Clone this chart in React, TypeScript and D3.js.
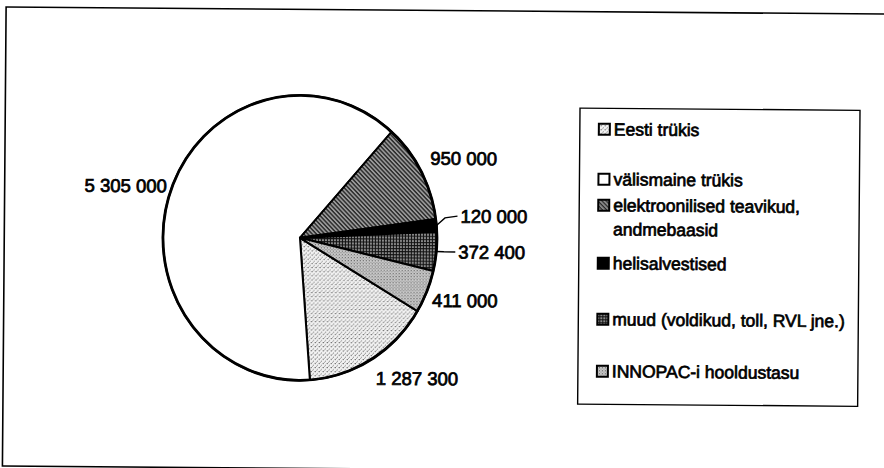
import React from "react";
import * as d3 from "d3";

const categories = [
  "Eesti trükis",
  "välismaine trükis",
  "elektroonilised teavikud, andmebaasid",
  "helisalvestised",
  "muud (voldikud, toll, RVL jne.)",
  "INNOPAC-i hooldustasu",
];
const legendLines = [
  ["Eesti trükis"],
  ["välismaine trükis"],
  ["elektroonilised teavikud,", "andmebaasid"],
  ["helisalvestised"],
  ["muud (voldikud, toll, RVL jne.)"],
  ["INNOPAC-i hooldustasu"],
];
const values = [1287300, 5305000, 950000, 120000, 372400, 411000];

const W = 884;
const H = 468;
const CX = 300;
const CY = 239;
const R = 137;
const SY = 1.04;
const START_DEG = 120.5;
const FONT = "'Liberation Sans', Arial, sans-serif";
const FILLS = ["url(#pEesti)", "#ffffff", "url(#pElektr)", "#000000", "url(#pMuud)", "url(#pInno)"];
// label nudges [dx, dy] relative to the computed outside anchor
const NUDGE: [number, number][] = [[0, 6], [4, -1], [2, -6], [16, -8], [14, -1], [-2, 3]];
const LEADER = [false, false, false, true, true, false];
const LEGEND_Y = [128, 178, 204, 262, 318, 370];

const fmt = (v: number) => d3.format(",")(v).replace(/,/g, " ");

export default function App() {
  const pie = d3
    .pie<number>()
    .sort(null)
    .startAngle((START_DEG * Math.PI) / 180)
    .endAngle((START_DEG * Math.PI) / 180 + 2 * Math.PI);
  const arcs = pie(values);
  const arc = d3.arc<d3.PieArcDatum<number>>().innerRadius(0).outerRadius(R);

  const labelEls = arcs.map((a, i) => {
    const mid = (a.startAngle + a.endAngle) / 2;
    const dx = Math.sin(mid);
    const dy = -Math.cos(mid);
    const d = R + 8;
    const px = CX + d * dx + NUDGE[i][0];
    const py = CY + d * dy * SY + dy * 7 + NUDGE[i][1];
    const anchor = dx > 0.1 ? "start" : dx < -0.1 ? "end" : "middle";
    let leader = null;
    if (LEADER[i]) {
      const ex = CX + R * dx;
      const ey = CY + R * dy * SY;
      const tx = px - 3;
      const ty = py;
      leader = (
        <path
          d={`M${ex},${ey} L${(ex + tx) / 2 - 2},${ty + (ey - ty) * 0.2} L${tx},${ty}`}
          fill="none"
          stroke="#000"
          strokeWidth={1.4}
        />
      );
    }
    return (
      <g key={i}>
        {leader}
        <text
          x={px}
          y={py}
          textAnchor={anchor}
          dominantBaseline="central"
          fontFamily={FONT}
          fontSize={18.5}
          fill="#000"
          stroke="#000"
          strokeWidth={0.75}
        >
          {fmt(values[i])}
        </text>
      </g>
    );
  });

  return (
    <svg
      width={W}
      height={H}
      style={{ position: "absolute", left: 0, top: 0, background: "#fff" }}
      xmlns="http://www.w3.org/2000/svg"
    >
      <defs>
        <pattern id="pEesti" width={4} height={4} patternUnits="userSpaceOnUse">
          <rect width={4} height={4} fill="#f2f2f2" />
          <rect x={0} y={0} width={1} height={1} fill="#666" />
          <rect x={2} y={2} width={1} height={1} fill="#888" />
          <rect x={3} y={0} width={1} height={1} fill="#bbb" />
          <rect x={1} y={3} width={1} height={1} fill="#aaa" />
        </pattern>
        <pattern id="pElektr" width={3} height={3} patternUnits="userSpaceOnUse" patternTransform="rotate(45)">
          <rect width={3} height={3} fill="#9a9a9a" />
          <rect x={0} y={0} width={3} height={1.4} fill="#2a2a2a" />
        </pattern>
        <pattern id="pMuud" width={3} height={3} patternUnits="userSpaceOnUse">
          <rect width={3} height={3} fill="#888" />
          <rect x={0} y={0} width={3} height={1} fill="#111" />
          <rect x={0} y={0} width={1} height={3} fill="#111" />
        </pattern>
        <pattern id="pInno" width={3} height={3} patternUnits="userSpaceOnUse">
          <rect width={3} height={3} fill="#cacaca" />
          <rect x={0} y={0} width={1} height={1} fill="#555" />
          <rect x={1.5} y={1.5} width={1} height={1} fill="#777" />
        </pattern>
      </defs>
      <g transform="rotate(0.46, 442, 234)">
        <rect x={4.3} y={10.5} width={900} height={459} fill="none" stroke="#000" strokeWidth={1.6} />

        <g transform={`translate(${CX},${CY}) scale(1,${SY})`}>
          {arcs.map((a, i) => (
            <path
              key={i}
              d={arc(a) || ""}
              fill={FILLS[i]}
              stroke="#000"
              strokeWidth={2}
              strokeLinejoin="round"
            />
          ))}
          <circle r={R} fill="none" stroke="#000" strokeWidth={2.8} />
        </g>

        {labelEls}

        <rect x={579} y={107} width={280} height={296} fill="#fff" stroke="#000" strokeWidth={1.4} />
        {categories.map((c, i) => (
          <g key={c}>
            <rect
              x={598}
              y={LEGEND_Y[i] - 5.5}
              width={11}
              height={11}
              fill={FILLS[i]}
              stroke="#000"
              strokeWidth={2}
            />
            {legendLines[i].map((ln, j) => (
              <text
                key={j}
                x={613}
                y={LEGEND_Y[i] + j * 24}
                dominantBaseline="central"
                fontFamily={FONT}
                fontSize={17.5}
                fill="#000"
                stroke="#000"
                strokeWidth={0.7}
              >
                {ln}
              </text>
            ))}
          </g>
        ))}
      </g>
    </svg>
  );
}
